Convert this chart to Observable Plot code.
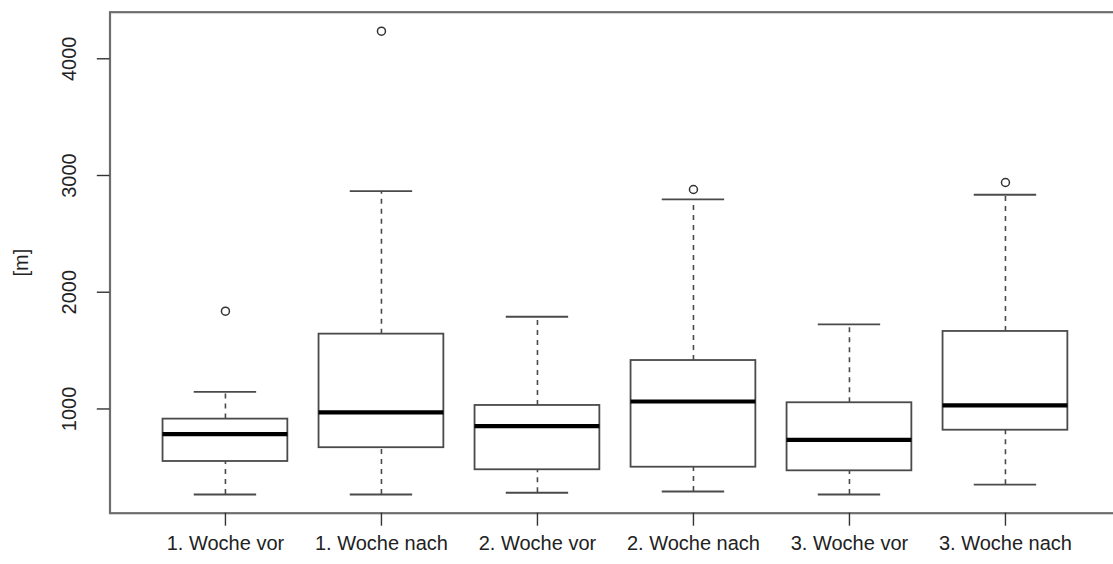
<!DOCTYPE html>
<html>
<head>
<meta charset="utf-8">
<script src="https://cdn.jsdelivr.net/npm/d3@7"></script>
<script src="https://cdn.jsdelivr.net/npm/@observablehq/plot@0.6"></script>
<style>
  html, body { margin: 0; padding: 0; background: #fff; }
  #chart svg { display: block; }
</style>
</head>
<body>
<div id="chart"></div>
<script>
// Categories and five-number summaries
const categories = ["1. Woche vor", "1. Woche nach", "2. Woche vor", "2. Woche nach", "3. Woche vor", "3. Woche nach"];
const lowerWhisker = [267, 267, 282, 293, 267, 351];
const q1 = [550, 668, 479, 501, 470, 818];
const median = [784, 970, 853, 1064, 736, 1030];
const q3 = [913, 1641, 1030, 1415, 1053, 1664];
const upperWhisker = [1147, 2866, 1790, 2795, 1724, 2835];
// Outliers: group index (1-based) and value
const outlierGroup = [1, 2, 4, 6];
const outlierValue = [1838, 4236, 2880, 2940];
const yTicks = [1000, 2000, 3000, 4000];
const yLabel = "[m]";

const rows = categories.map((c, i) => ({
  cat: c, pos: i + 1,
  lo: lowerWhisker[i], q1: q1[i], med: median[i], q3: q3[i], hi: upperWhisker[i]
}));
const outliers = outlierGroup.map((g, i) => ({pos: g, value: outlierValue[i]}));

const boxHalf = 0.4, capHalf = 0.2;
const lineColor = "#4a4a4a";

const chart = Plot.plot({
  width: 1113,
  height: 564,
  marginLeft: 109.5,
  marginRight: -7.4,
  marginTop: 11.7,
  marginBottom: 51.3,
  style: {fontFamily: "'Liberation Sans', Arial, sans-serif", fontSize: "20px", color: "#222", background: "#fff"},
  x: {domain: [0.26, 6.74], label: null},
  y: {domain: [107, 4399], label: null},
  marks: [
    // whiskers (dashed)
    Plot.ruleX(rows, {x: "pos", y1: "q3", y2: "hi", stroke: lineColor, strokeWidth: 1.6, strokeDasharray: "5,5"}),
    Plot.ruleX(rows, {x: "pos", y1: "lo", y2: "q1", stroke: lineColor, strokeWidth: 1.6, strokeDasharray: "5,5"}),
    // whisker caps
    Plot.ruleY(rows, {y: "hi", x1: d => d.pos - capHalf, x2: d => d.pos + capHalf, stroke: lineColor, strokeWidth: 1.8}),
    Plot.ruleY(rows, {y: "lo", x1: d => d.pos - capHalf, x2: d => d.pos + capHalf, stroke: lineColor, strokeWidth: 1.8}),
    // boxes
    Plot.rect(rows, {x1: d => d.pos - boxHalf, x2: d => d.pos + boxHalf, y1: "q1", y2: "q3", fill: "white", stroke: lineColor, strokeWidth: 1.8}),
    // medians
    Plot.ruleY(rows, {y: "med", x1: d => d.pos - boxHalf, x2: d => d.pos + boxHalf, stroke: "#000", strokeWidth: 4.2}),
    // outliers
    Plot.dot(outliers, {x: "pos", y: "value", r: 4, stroke: "#333", strokeWidth: 1.5, fill: "white"}),
    // frame
    Plot.frame({stroke: "#6e6e6e", strokeWidth: 2.2}),
    // x axis
    Plot.axisX({ticks: rows.map(d => d.pos), tickFormat: p => categories[p - 1], tickSize: 13, tickPadding: 10, stroke: "#333", strokeWidth: 1.4, fontSize: 20, label: null}),
    // y axis ticks
    Plot.axisY({ticks: yTicks, tickSize: 12.7, tickFormat: () => "", stroke: "#333", strokeWidth: 1.4, label: null}),
    // y tick labels (rotated, parallel to axis)
    Plot.text(yTicks, {y: d => d, text: d => String(d), frameAnchor: "left", dx: -40, rotate: -90, textAnchor: "middle", fontSize: 20, fill: "#222"}),
    // y axis label
    Plot.text([yLabel], {frameAnchor: "left", dx: -88.5, rotate: -90, textAnchor: "middle", fontSize: 20, fill: "#222"})
  ]
});
document.getElementById("chart").appendChild(chart);
</script>
</body>
</html>
